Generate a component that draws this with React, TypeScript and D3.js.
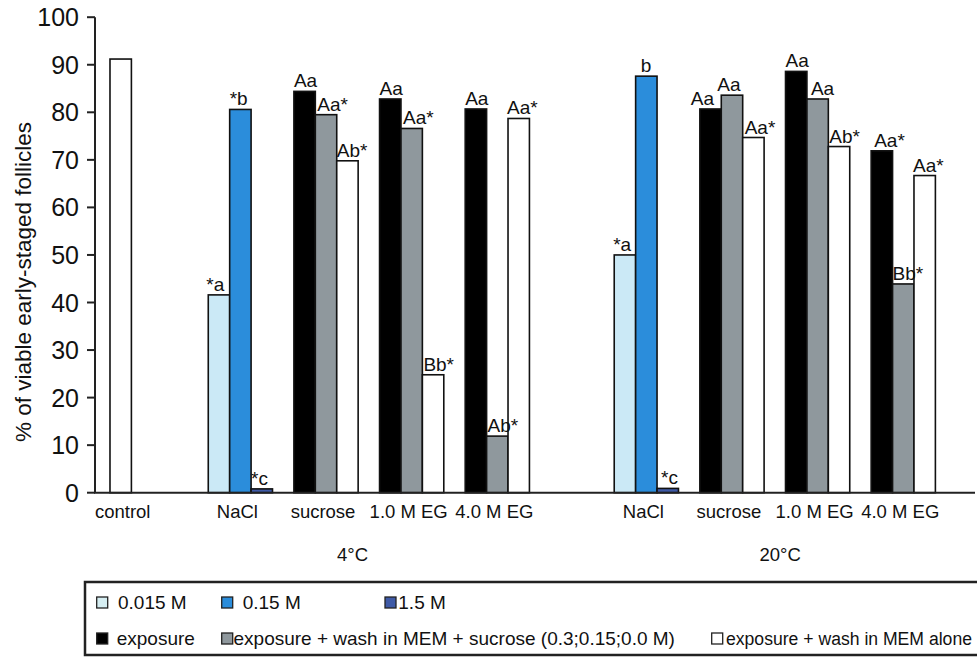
import React from "react";
import * as d3 from "d3";

// ---- data ----
const temperatures = ["4°C", "20°C"];
const treatments = ["NaCl", "sucrose", "1.0 M EG", "4.0 M EG"];
const naclConcentrations = ["0.015 M", "0.15 M", "1.5 M"];
const washProtocols = [
  "exposure",
  "exposure + wash in MEM + sucrose (0.3;0.15;0.0 M)",
  "exposure + wash in MEM alone",
];
const controlLabel = "control";
const controlValue = 91.2;
const yTicks = [0, 10, 20, 30, 40, 50, 60, 70, 80, 90, 100];

// values per temperature: [NaCl, sucrose, 1.0 M EG, 4.0 M EG], each 3 bars
const values4C = [
  [41.6, 80.6, 0.8],
  [84.4, 79.5, 69.8],
  [82.8, 76.6, 24.8],
  [80.7, 11.9, 78.7],
];
const values20C = [
  [50.0, 87.6, 0.9],
  [80.7, 83.6, 74.7],
  [88.6, 82.8, 72.8],
  [71.9, 43.9, 66.7],
];
const labels4C = [
  ["*a", "*b", "*c"],
  ["Aa", "Aa*", "Ab*"],
  ["Aa", "Aa*", "Bb*"],
  ["Aa", "Ab*", "Aa*"],
];
const labels20C = [
  ["*a", "b", "*c"],
  ["Aa", "Aa", "Aa*"],
  ["Aa", "Aa", "Ab*"],
  ["Aa*", "Bb*", "Aa*"],
];

// ---- styles ----
const FONT = "'Liberation Sans', Arial, Helvetica, sans-serif";
const naclColors = ["#cbe9f6", "#2b8ddb", "#3f5aa6"];
const washColors = ["#000000", "#8f989d", "#ffffff"];
const legendNaclFill = ["#d6eef2", "#2b8ddb", "#3f5aa6"];

// small per-label horizontal nudges (px) [temp][group][bar]
const labelDx = [
  [
    [-2, 0, 0],
    [0, 2, 0],
    [0, 2, 1],
    [0, 1, -1],
  ],
  [
    [-1, 5, 4],
    [-9, -4, 2],
    [0, 4, 1],
    [3, 0, -1],
  ],
];

const W = 977;
const H = 659;

export default function App() {
  // slot units: each bar is one slot wide
  const x = d3.scaleLinear().domain([0, 41.1]).range([95, 975]);
  const y = d3.scaleLinear().domain([0, 100]).range([492.7, 17.2]);
  const slot = x(1) - x(0);

  const CONTROL_SLOT = 0.7;
  const FIRST_GROUP_SLOT = 5.29;
  const GROUP_STEP = 4;
  const TEMP_STEP = 18.96;
  const tempLabelSlots = [12.03, 32.0];

  const allValues = [values4C, values20C];
  const allLabels = [labels4C, labels20C];

  const bars: any[] = [];
  const texts: any[] = [];
  const catLabels: any[] = [];

  // control
  bars.push(
    <rect
      key="ctrl"
      x={x(CONTROL_SLOT)}
      y={y(controlValue)}
      width={slot}
      height={y(0) - y(controlValue)}
      fill="#ffffff"
      stroke="#111"
      strokeWidth={1.6}
    />
  );
  catLabels.push(
    <text key="cl-ctrl" x={x(CONTROL_SLOT + 0.5) + 2} y={518} textAnchor="middle" fontSize={18.5}>
      {controlLabel}
    </text>
  );

  temperatures.forEach((t, ti) => {
    treatments.forEach((tr, gi) => {
      const start = FIRST_GROUP_SLOT + gi * GROUP_STEP + ti * TEMP_STEP;
      const colors = gi === 0 ? naclColors : washColors;
      allValues[ti][gi].forEach((v, bi) => {
        const bx = x(start + bi);
        bars.push(
          <rect
            key={`b-${ti}-${gi}-${bi}`}
            x={bx}
            y={y(v)}
            width={slot}
            height={y(0) - y(v)}
            fill={colors[bi]}
            stroke="#111"
            strokeWidth={1.6}
          />
        );
        const lab = allLabels[ti][gi][bi];
        texts.push(
          <text
            key={`l-${ti}-${gi}-${bi}`}
            x={bx + labelDx[ti][gi][bi]}
            y={y(v) - 4}
            fontSize={19}
            textAnchor="start"
          >
            {lab}
          </text>
        );
      });
      catLabels.push(
        <text
          key={`cl-${ti}-${gi}`}
          x={x(start + 1.5) - 3}
          y={518}
          textAnchor="middle"
          fontSize={18.5}
        >
          {tr}
        </text>
      );
    });
    catLabels.push(
      <text key={`tl-${ti}`} x={x(tempLabelSlots[ti])} y={561} textAnchor="middle" fontSize={18.5}>
        {t}
      </text>
    );
  });

  const legendRow1X = [96.7, 221.7, 385];
  const legendRow2X = [96.7, 221.7, 711.7];
  const legendRow1TextX = [118, 242.7, 398.3];
  const legendRow2TextX = [116.7, 233.5, 726];
  const legendRow2Font = [19, 19, 17.6];

  return (
    <svg
      width={W}
      height={H}
      style={{ position: "absolute", left: 0, top: 0, background: "#fff", fontFamily: FONT }}
    >
      <rect x={0} y={0} width={W} height={H} fill="#fff" />
      {bars}
      {/* axes */}
      <line x1={95} x2={95} y1={y(100)} y2={y(0)} stroke="#222" strokeWidth={2} />
      <line x1={94} x2={975} y1={y(0)} y2={y(0)} stroke="#222" strokeWidth={2} />
      {yTicks.map((v) => (
        <g key={`t${v}`}>
          <line x1={87} x2={95} y1={y(v)} y2={y(v)} stroke="#222" strokeWidth={2} />
          <text x={79} y={y(v)} dy="0.36em" textAnchor="end" fontSize={25} fill="#111">
            {v}
          </text>
        </g>
      ))}
      <text
        transform={`translate(31,282) rotate(-90)`}
        textAnchor="middle"
        fontSize={22.5}
        fill="#111"
      >
        % of viable early-staged follicles
      </text>
      <g fill="#111">{texts}</g>
      <g fill="#111">{catLabels}</g>
      {/* legend */}
      <rect x={85} y={582} width={910} height={73} fill="none" stroke="#222" strokeWidth={2.5} />
      {naclConcentrations.map((c, i) => (
        <g key={`ln${i}`}>
          <rect
            x={legendRow1X[i]}
            y={597}
            width={11}
            height={11}
            fill={legendNaclFill[i]}
            stroke="#222"
            strokeWidth={1.3}
          />
          <text x={legendRow1TextX[i]} y={609} fontSize={19} fill="#111">
            {c}
          </text>
        </g>
      ))}
      {washProtocols.map((c, i) => (
        <g key={`lw${i}`}>
          <rect
            x={legendRow2X[i]}
            y={633}
            width={11}
            height={11}
            fill={washColors[i]}
            stroke="#222"
            strokeWidth={1.3}
          />
          <text x={legendRow2TextX[i]} y={645} fontSize={legendRow2Font[i]} fill="#111">
            {c}
          </text>
        </g>
      ))}
    </svg>
  );
}
